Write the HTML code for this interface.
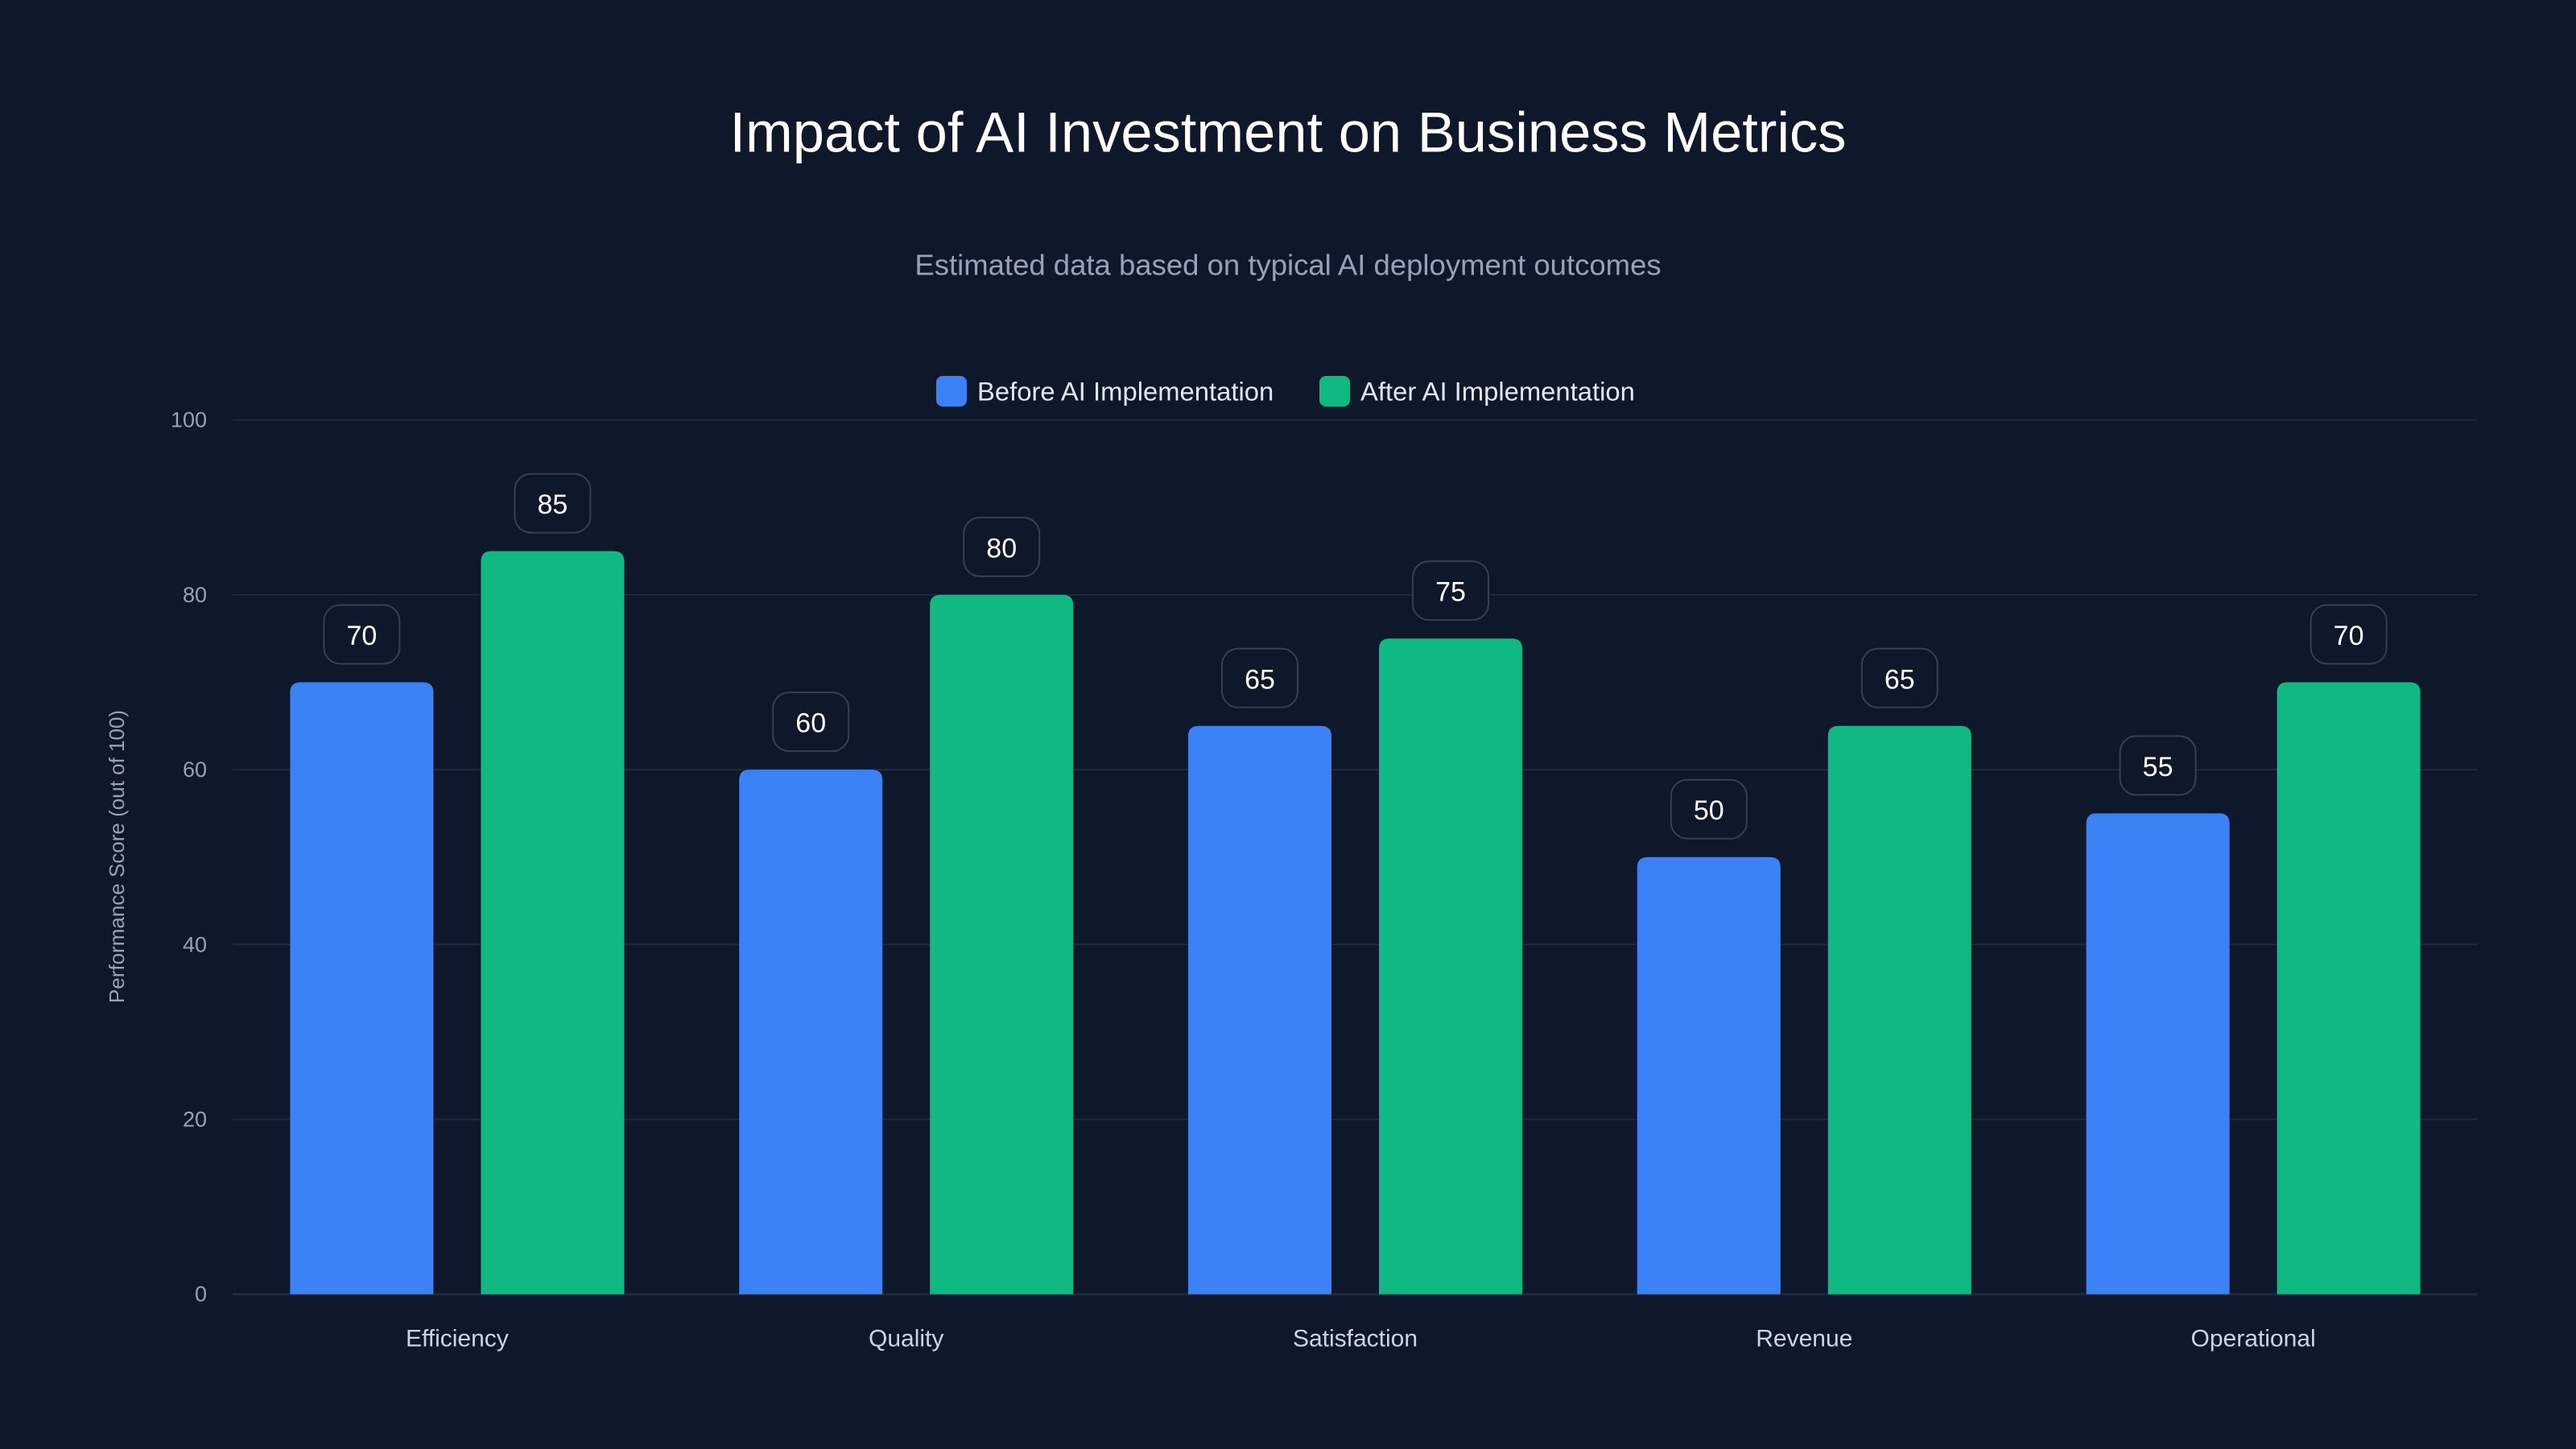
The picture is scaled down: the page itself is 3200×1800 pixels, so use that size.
<!DOCTYPE html>
<html><head><meta charset="utf-8">
<style>
html,body{margin:0;padding:0;background:#0f172a;}
svg{display:block;font-family:"Liberation Sans",sans-serif;}
</style></head>
<body>
<svg id="chart" width="3200" height="1800" viewBox="0 0 3200 1800" xmlns="http://www.w3.org/2000/svg">
<rect width="3200" height="1800" fill="#0f172a"/>
<text x="1600" y="164" text-anchor="middle" dominant-baseline="central" fill="#ffffff" font-size="70.5">Impact of AI Investment on Business Metrics</text>
<text x="1600" y="329" text-anchor="middle" dominant-baseline="central" fill="#94a3b8" font-size="36.5">Estimated data based on typical AI deployment outcomes</text>
<g>
<g>
<rect x="1163" y="467" width="38" height="38" rx="8" fill="#3b82f6"/>
<text x="1214" y="486" dominant-baseline="central" fill="#e2e8f0" font-size="32.8">Before AI Implementation</text>
</g>
<g>
<rect x="1639" y="467" width="38" height="38" rx="8" fill="#10b981"/>
<text x="1690" y="486" dominant-baseline="central" fill="#e2e8f0" font-size="32.8">After AI Implementation</text>
</g>
</g>
<text transform="translate(145,1064) rotate(-90)" text-anchor="middle" dominant-baseline="central" fill="#94a3b8" font-size="26">Performance Score (out of 100)</text>
<g id="grid"></g>
<g id="bars"></g>
</svg>
<script>
const categories = ["Efficiency","Quality","Satisfaction","Revenue","Operational"];
const beforeValues = [70,60,65,50,55];
const afterValues = [85,80,75,65,70];
const yTicks = [0,20,40,60,80,100];

const NS = "http://www.w3.org/2000/svg";
const plotL = 289, plotR = 3078, y0 = 1607.7, y100 = 521.7;
const yScale = v => y0 - (v/100)*(y0 - y100);
const band = (plotR - plotL)/categories.length;
const xCenter = i => plotL + band*(i+0.5);
const barW = 178, offset = 118.5;

function mk(tag, attrs, parent){
  const e = document.createElementNS(NS, tag);
  for (const k in attrs) e.setAttribute(k, attrs[k]);
  parent.appendChild(e);
  return e;
}
const grid = document.getElementById('grid');
const bars = document.getElementById('bars');

yTicks.forEach(t => {
  const y = yScale(t);
  const l = mk('line', {x1:plotL, x2:plotR, y1:y, y2:y, stroke:'#1e293b', 'stroke-width': t===0?3:2}, grid);
  
  
  const tx = mk('text', {x:257, y:y, 'text-anchor':'end', 'dominant-baseline':'central', fill:'#94a3b8', 'font-size':27}, grid);
  tx.textContent = t;
  
  
});

function barPath(x, y, w, h, r){
  return `M${x},${y+h} L${x},${y+r} Q${x},${y} ${x+r},${y} L${x+w-r},${y} Q${x+w},${y} ${x+w},${y+r} L${x+w},${y+h} Z`;
}

categories.forEach((c, i) => {
  const cx = xCenter(i);
  const lab = mk('text', {x:cx, y:1663, 'text-anchor':'middle', 'dominant-baseline':'central', fill:'#cbd5e1', 'font-size':30}, bars);
  lab.textContent = c;
  
  
  [[beforeValues, -offset, '#3b82f6', 'before'], [afterValues, offset, '#10b981', 'after']].forEach(([arr, off, col, nm]) => {
    const v = arr[i];
    const bx = cx + off - barW/2, by = yScale(v), bh = y0 - by;
    const p = mk('path', {d: barPath(bx, by, barW, bh, 13), fill: col}, bars);
    
    
    const boxW = 94, boxH = 73;
    const r = mk('rect', {x: cx+off-boxW/2, y: by-23-boxH, width: boxW, height: boxH, rx: 20, fill:'#0f172a', stroke:'#334155', 'stroke-width':2}, bars);
    
    
    const t = mk('text', {x: cx+off, y: by-21-boxH/2, 'text-anchor':'middle', 'dominant-baseline':'central', fill:'#ffffff', 'font-size':34}, bars);
    t.textContent = v;
    
    
  });
});
</script>
</body></html>
